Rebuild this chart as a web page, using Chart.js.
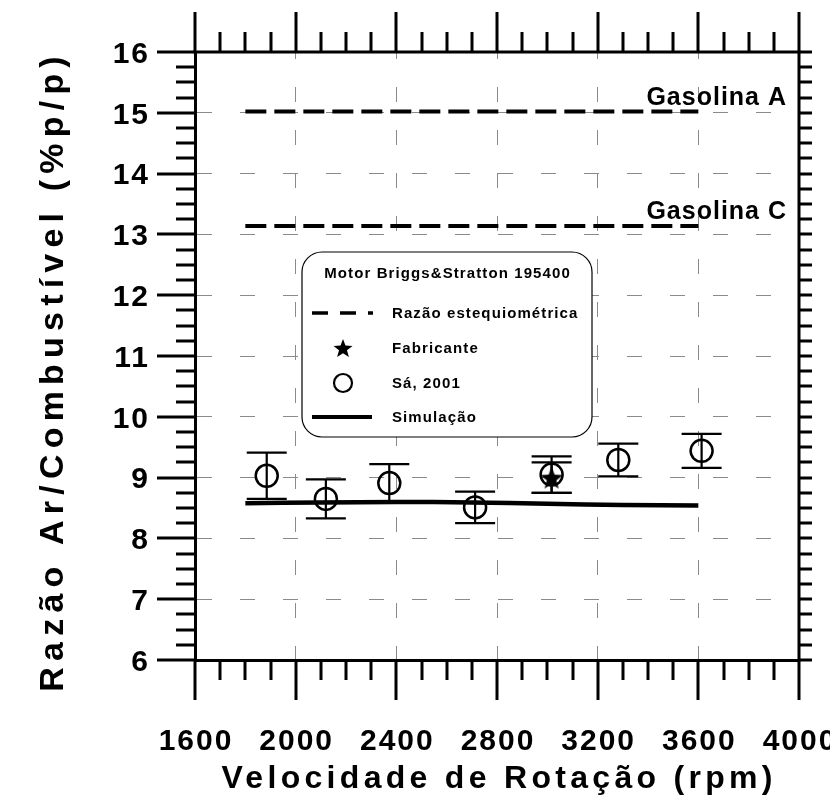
<!DOCTYPE html>
<html>
<head>
<meta charset="utf-8">
<script src="https://cdn.jsdelivr.net/npm/chart.js@4/dist/chart.umd.min.js"></script>
<style>
  html, body { margin: 0; padding: 0; background: #fff; }
  canvas { display: block; }
</style>
</head>
<body>
<canvas id="chart" width="830" height="803"></canvas>
<script>
// Axis ticks
const xTickValues = [1600, 2000, 2400, 2800, 3200, 3600, 4000];
const yTickValues = [6, 7, 8, 9, 10, 11, 12, 13, 14, 15, 16];

// Measured air/fuel ratio (Sá, 2001) with error bars
const rpmSa = [1885, 2120, 2372, 2713, 3017, 3282, 3613];
const afrSa = [9.03, 8.65, 8.91, 8.51, 9.05, 9.29, 9.44];
const errSa = [0.38, 0.32, 0.31, 0.26, 0.30, 0.27, 0.28];

// Manufacturer value
const rpmFabricante = [3017];
const afrFabricante = [9.00];
const errFabricante = [0.25];

// Simulation
const rpmSimulacao = [1800, 2100, 2400, 2700, 3000, 3300, 3600];
const afrSimulacao = [8.58, 8.59, 8.60, 8.59, 8.57, 8.55, 8.54];

// Stoichiometric ratios
const rpmEstequiometrica = [1800, 3600];
const afrGasolinaA = [15.02, 15.02];
const afrGasolinaC = [13.14, 13.14];
const gasolinaLabels = ['Gasolina A', 'Gasolina C'];

const legendTitle = 'Motor Briggs&Stratton 195400';
const seriesNames = ['Razão estequiométrica', 'Fabricante', 'Sá, 2001', 'Simulação'];
const xTitle = 'Velocidade de Rotação (rpm)';
const yTitle = 'Razão Ar/Combustível (%p/p)';

const FONT = '"Liberation Sans", Arial, Helvetica, sans-serif';
const pts = (xs, ys) => xs.map((x, i) => ({ x, y: ys[i] }));

function starPath(g, cx, cy, r) {
  g.beginPath();
  for (let k = 0; k < 10; k++) {
    const rad = k % 2 ? r * 0.42 : r;
    const a = -Math.PI / 2 + k * Math.PI / 5;
    g.lineTo(cx + rad * Math.cos(a), cy + rad * Math.sin(a));
  }
  g.closePath();
}
function starCanvas(r) {
  const c = document.createElement('canvas');
  const s = Math.ceil(r * 2 + 4);
  c.width = s; c.height = s;
  const g = c.getContext('2d');
  starPath(g, s / 2, s / 2 + r * 0.1, r);
  g.fillStyle = '#000';
  g.fill();
  return c;
}
const starImg = starCanvas(12);

function drawText(ctx, str, x, y, size, ls, align, rot) {
  ctx.save();
  ctx.font = `bold ${size}px ${FONT}`;
  ctx.letterSpacing = ls + 'px';
  ctx.textAlign = align;
  ctx.textBaseline = 'alphabetic';
  ctx.fillStyle = '#000';
  ctx.translate(x, y);
  if (rot) ctx.rotate(rot);
  let dx = 0;
  if (align === 'center') dx = ls / 2;
  if (align === 'right') dx = ls;
  ctx.fillText(str, dx, 0);
  ctx.restore();
}

// Vertical error bars with caps
const errorBars = {
  id: 'errorBars',
  afterDatasetsDraw(chart) {
    const { ctx, scales: { x, y } } = chart;
    const draw = (xs, ys, es) => {
      xs.forEach((v, i) => {
        const px = x.getPixelForValue(v);
        const top = y.getPixelForValue(ys[i] + es[i]);
        const bot = y.getPixelForValue(ys[i] - es[i]);
        ctx.beginPath();
        ctx.moveTo(px, top); ctx.lineTo(px, bot);
        ctx.moveTo(px - 20, top); ctx.lineTo(px + 20, top);
        ctx.moveTo(px - 20, bot); ctx.lineTo(px + 20, bot);
        ctx.stroke();
      });
    };
    ctx.save();
    ctx.strokeStyle = '#000';
    ctx.lineWidth = 2.2;
    draw(rpmSa, afrSa, errSa);
    draw(rpmFabricante, afrFabricante, errFabricante);
    ctx.restore();
  }
};

// Frame, tick marks, tick labels, titles, line labels and legend box
const frame = {
  id: 'frame',
  afterDraw(chart) {
    const { ctx, chartArea: a, scales: { x, y } } = chart;
    ctx.save();
    ctx.strokeStyle = '#000';
    ctx.lineCap = 'butt';

    // top and right border
    ctx.lineWidth = 3;
    ctx.beginPath();
    ctx.moveTo(a.left - 1.5, a.top); ctx.lineTo(a.right, a.top);
    ctx.moveTo(a.right, a.top - 1.5); ctx.lineTo(a.right, a.bottom + 1.5);
    ctx.stroke();

    // x tick marks (bottom and top)
    ctx.lineWidth = 3;
    for (let v = x.min; v <= x.max + 1e-6; v += 100) {
      const px = Math.round(x.getPixelForValue(v));
      const major = xTickValues.includes(v);
      const len = major ? 40 : 20;
      ctx.beginPath();
      ctx.moveTo(px, a.bottom); ctx.lineTo(px, a.bottom + len);
      ctx.moveTo(px, a.top); ctx.lineTo(px, a.top - len);
      ctx.stroke();
    }
    // y tick marks (left and right)
    for (let v = y.min; v <= y.max + 1e-6; v += 0.25) {
      const py = Math.round(y.getPixelForValue(v));
      const major = Math.abs(v - Math.round(v)) < 1e-6;
      const len = major ? 38 : 19;
      ctx.beginPath();
      ctx.moveTo(a.left, py); ctx.lineTo(a.left - len, py);
      ctx.moveTo(a.right, py); ctx.lineTo(a.right + 13, py);
      ctx.stroke();
    }

    // tick labels
    xTickValues.forEach(v => drawText(ctx, String(v), x.getPixelForValue(v), 750, 30, 2, 'center'));
    yTickValues.forEach(v => drawText(ctx, String(v), 148, y.getPixelForValue(v) + 10.7, 30, 2, 'right'));

    // axis titles
    drawText(ctx, xTitle, (a.left + a.right) / 2, 788, 32, 4.3, 'center');
    drawText(ctx, yTitle, 63, 374, 34, 6.2, 'center', -Math.PI / 2);

    // labels of the stoichiometric lines
    [afrGasolinaA, afrGasolinaC].forEach((vals, i) => {
      drawText(ctx, gasolinaLabels[i], a.right - 13, y.getPixelForValue(vals[0]) - 7, 25, 1, 'right');
    });

    // legend box
    const bx = 302, by = 252, bw = 290, bh = 185, r = 20;
    ctx.beginPath();
    ctx.roundRect(bx, by, bw, bh, r);
    ctx.fillStyle = '#fff';
    ctx.fill();
    ctx.lineWidth = 1.2;
    ctx.stroke();
    drawText(ctx, legendTitle, bx + bw / 2, 278, 15, 1.1, 'center');

    const rows = [313, 348, 383, 417];
    const sx = 343, tx = 392;
    // dashed sample
    ctx.lineWidth = 3.5;
    ctx.setLineDash([16, 12]);
    ctx.beginPath(); ctx.moveTo(312, rows[0]); ctx.lineTo(373, rows[0]); ctx.stroke();
    ctx.setLineDash([]);
    // star sample
    ctx.fillStyle = '#000';
    starPath(ctx, sx, rows[1] + 1, 10);
    ctx.fill();
    // circle sample
    ctx.lineWidth = 2.2;
    ctx.beginPath(); ctx.arc(sx, rows[2], 9, 0, Math.PI * 2); ctx.stroke();
    // solid sample
    ctx.lineWidth = 4;
    ctx.beginPath(); ctx.moveTo(312, rows[3]); ctx.lineTo(372, rows[3]); ctx.stroke();

    seriesNames.forEach((s, i) => drawText(ctx, s, tx, rows[i] + 5.4, 15, 1.1, 'left'));
    ctx.restore();
  }
};

new Chart(document.getElementById('chart'), {
  type: 'scatter',
  data: {
    datasets: [
      {
        label: seriesNames[1],
        data: pts(rpmFabricante, afrFabricante),
        pointStyle: starImg,
        pointRadius: 12
      },
      {
        label: seriesNames[2],
        data: pts(rpmSa, afrSa),
        pointStyle: 'circle',
        pointRadius: 11,
        borderWidth: 2.5,
        borderColor: '#000',
        backgroundColor: 'rgba(0,0,0,0)'
      },
      {
        label: seriesNames[3],
        data: pts(rpmSimulacao, afrSimulacao),
        showLine: true,
        borderColor: '#000',
        borderWidth: 4.5,
        pointRadius: 0,
        tension: 0.3
      },
      {
        label: gasolinaLabels[0],
        data: pts(rpmEstequiometrica, afrGasolinaA),
        showLine: true,
        borderColor: '#000',
        borderWidth: 4,
        borderDash: [21, 8],
        pointRadius: 0
      },
      {
        label: gasolinaLabels[1],
        data: pts(rpmEstequiometrica, afrGasolinaC),
        showLine: true,
        borderColor: '#000',
        borderWidth: 4,
        borderDash: [21, 8],
        pointRadius: 0
      }
    ]
  },
  options: {
    responsive: false,
    animation: false,
    devicePixelRatio: 1,
    layout: { padding: { top: 52, right: 31, left: 0, bottom: 0 } },
    plugins: { legend: { display: false }, tooltip: { enabled: false } },
    scales: {
      x: {
        type: 'linear',
        position: 'bottom',
        min: 1600,
        max: 4000,
        afterBuildTicks: s => { s.ticks = xTickValues.map(v => ({ value: v })); },
        afterFit: s => { s.height = 143; },
        ticks: { display: false },
        grid: { color: '#8a8a8a', lineWidth: 1, drawTicks: false },
        border: { display: true, color: '#000', width: 3, dash: [15, 28], dashOffset: 8 }
      },
      y: {
        type: 'linear',
        position: 'left',
        min: 6,
        max: 16,
        afterBuildTicks: s => { s.ticks = yTickValues.map(v => ({ value: v })); },
        afterFit: s => { s.width = 195; },
        ticks: { display: false },
        grid: { color: '#8a8a8a', lineWidth: 1, drawTicks: false },
        border: { display: true, color: '#000', width: 3, dash: [15, 28] }
      }
    }
  },
  plugins: [errorBars, frame]
});
</script>
</body>
</html>
